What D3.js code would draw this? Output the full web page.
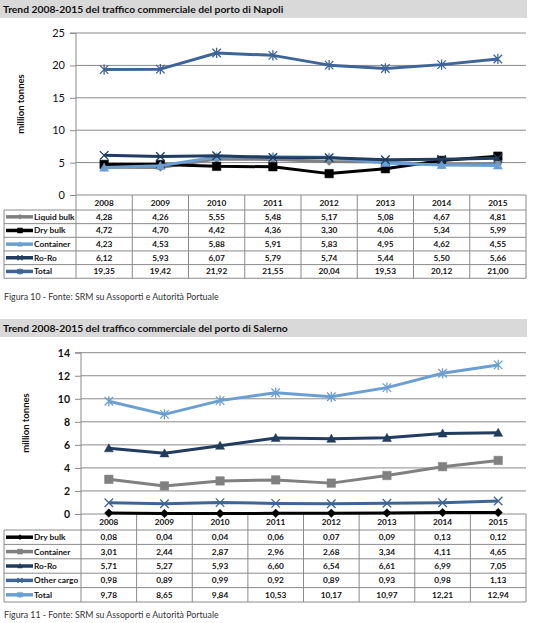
<!DOCTYPE html>
<html><head><meta charset="utf-8">
<script src="https://cdn.jsdelivr.net/npm/d3@7"></script>
<style>
body{margin:0;background:#fff;}
svg{display:block;font-family:Lato,"Noto Sans",sans-serif;}
</style></head>
<body><svg id="c" width="537" height="623"></svg>
<script>
const years = ["2008","2009","2010","2011","2012","2013","2014","2015"];

// Napoli
const napoliTitle = "Trend 2008-2015 del traffico commerciale del porto di Napoli";
const napoliCaption = "Figura 10 - Fonte: SRM su Assoporti e Autorità Portuale";
const napoliTicks = [0,5,10,15,20,25];
const napoliLiquid = [4.28,4.26,5.55,5.48,5.17,5.08,4.67,4.81];
const napoliDry = [4.72,4.70,4.42,4.36,3.30,4.06,5.34,5.99];
const napoliContainer = [4.23,4.53,5.88,5.91,5.83,4.95,4.62,4.55];
const napoliRoRo = [6.12,5.93,6.07,5.79,5.74,5.44,5.50,5.66];
const napoliTotal = [19.35,19.42,21.92,21.55,20.04,19.53,20.12,21.00];

// Salerno
const salernoTitle = "Trend 2008-2015 del traffico commerciale del porto di Salerno";
const salernoCaption = "Figura 11 - Fonte: SRM su Assoporti e Autorità Portuale";
const salernoTicks = [0,2,4,6,8,10,12,14];
const salernoDry = [0.08,0.04,0.04,0.06,0.07,0.09,0.13,0.12];
const salernoContainer = [3.01,2.44,2.87,2.96,2.68,3.34,4.11,4.65];
const salernoRoRo = [5.71,5.27,5.93,6.60,6.54,6.61,6.99,7.05];
const salernoOther = [0.98,0.89,0.99,0.92,0.89,0.93,0.98,1.13];
const salernoTotal = [9.78,8.65,9.84,10.53,10.17,10.97,12.21,12.94];

const C = {gray:"#808080", black:"#000000", light:"#6a9fd3", navy:"#203c5f", steel:"#3d6597"};

const fmt = d3.formatLocale({decimal:",",thousands:".",grouping:[3],currency:["",""]}).format(".2f");
const svg = d3.select("#c");

function markerPath(type, s){
  const h = s/2;
  if(type==="x") return `M${-h},${-h}L${h},${h}M${-h},${h}L${h},${-h}`;
  if(type==="star") return `M${-h},${-h}L${h},${h}M${-h},${h}L${h},${-h}M0,${-h*1.2}L0,${h*1.2}`;
  if(type==="square") return `M${-h},${-h}H${h}V${h}H${-h}Z`;
  if(type==="diamond") return `M0,${-h}L${h},0L0,${h}L${-h},0Z`;
  if(type==="triangle") return `M0,${-h}L${h},${h*0.8}L${-h},${h*0.8}Z`;
  return "";
}
function drawMarker(g, type, x, y, color, s){
  const filled = type!=="x" && type!=="star";
  g.append("path").attr("transform",`translate(${x},${y})`).attr("d",markerPath(type,s))
   .attr("fill", filled?color:"none").attr("stroke",color).attr("stroke-width",filled?0.5:1.3);
}

function drawChart(cfg){
  const g = svg.append("g");
  g.append("rect").attr("x",0).attr("y",cfg.barY).attr("width",527).attr("height",18).attr("fill","#d9d9d9");
  g.append("text").attr("x",3).attr("y",cfg.barY+13).attr("font-size",10.3).attr("font-weight","bold").attr("fill","#111").text(cfg.title);

  const x = d3.scaleBand().domain(years).range([cfg.left,526]);
  const y = d3.scaleLinear().domain([0,d3.max(cfg.ticks)]).range([cfg.y0,cfg.yTop]);
  g.append("g").selectAll("line").data(cfg.ticks.filter(t=>t>0)).join("line")
    .attr("x1",cfg.left).attr("x2",526).attr("y1",d=>y(d)).attr("y2",d=>y(d))
    .attr("stroke","#8a8a8a").attr("stroke-width",1);
  const ax = g.append("g").attr("transform",`translate(${cfg.left},0)`)
    .call(d3.axisLeft(y).tickValues(cfg.ticks).tickSize(6).tickPadding(5).tickFormat(d3.format("d")));
  ax.select(".domain").attr("stroke","#8a8a8a").attr("d",`M-6,${y(d3.max(cfg.ticks))}H0V${cfg.tableBottom}`);
  ax.selectAll(".tick line").attr("stroke","#8a8a8a");
  ax.selectAll(".tick text").attr("font-size",cfg.tickFont).attr("font-family","Lato,'Noto Sans',sans-serif")
    .attr("font-weight",cfg.tickWeight).attr("fill","#111");
  g.append("text").attr("transform",`translate(${cfg.labelX},${cfg.labelY}) rotate(-90)`)
    .attr("text-anchor","middle").attr("font-size",9.5).attr("font-weight","bold").attr("fill","#111").text("million tonnes");

  const rows = cfg.series.length;
  const rowH = cfg.rowH;
  const headB = cfg.headBottom;
  const tb = g.append("g");
  const tableStroke = "#8a8a8a";
  tb.append("line").attr("x1",cfg.left).attr("x2",526).attr("y1",cfg.y0).attr("y2",cfg.y0).attr("stroke",tableStroke);
  for(let i=0;i<=rows;i++){
    const yy = headB + i*rowH;
    tb.append("line").attr("x1",4).attr("x2",526).attr("y1",yy).attr("y2",yy).attr("stroke",tableStroke);
  }
  const bottom = headB + rows*rowH;
  tb.append("line").attr("x1",4).attr("x2",4).attr("y1",headB).attr("y2",bottom).attr("stroke",tableStroke);
  years.forEach((yr,i)=>{
    const xx = x(yr)+x.bandwidth();
    tb.append("line").attr("x1",xx).attr("x2",xx).attr("y1",cfg.y0).attr("y2",bottom).attr("stroke",tableStroke);
  });
  tb.selectAll("text.h").data(years).join("text").attr("class","h")
    .attr("x",d=>x(d)+x.bandwidth()/2).attr("y",(cfg.y0+headB)/2+3)
    .attr("text-anchor","middle").attr("font-size",8.3).attr("font-weight","bold").attr("fill","#111").text(d=>d);
  cfg.series.forEach((s,i)=>{
    const cy = headB + i*rowH + rowH/2;
    tb.append("line").attr("x1",6).attr("x2",33).attr("y1",cy).attr("y2",cy).attr("stroke",s.color).attr("stroke-width",3.5);
    drawMarker(tb, s.marker, 20, cy, s.color, 5);
    tb.append("text").attr("x",34).attr("y",cy+3).attr("font-size",8.3).attr("font-weight","bold").attr("fill","#111").text(s.name);
    tb.selectAll(null).data(s.values).join("text")
      .attr("x",(d,j)=>x(years[j])+x.bandwidth()/2).attr("y",cy+3)
      .attr("text-anchor","middle").attr("font-size",8.3).attr("font-weight","bold").attr("fill","#111").text(d=>fmt(d));
  });
  g.append("text").attr("x",4).attr("y",cfg.captionY).attr("font-size",8.8).attr("fill","#333").text(cfg.caption);

  const line = d3.line().x((d,j)=>x(years[j])+x.bandwidth()/2).y(d=>y(d));
  cfg.series.forEach(s=>{
    g.append("path").datum(s.values).attr("d",line).attr("fill","none").attr("stroke",s.color)
      .attr("stroke-width",3).attr("stroke-linejoin","round");
    s.values.forEach((v,j)=>drawMarker(g, s.marker, x(years[j])+x.bandwidth()/2, y(v), s.color, s.msize));
  });
}

drawChart({
  barY:0, title:napoliTitle, caption:napoliCaption, ticks:napoliTicks,
  left:76, y0:195, yTop:33, headBottom:210, rowH:13.65, tableBottom:278,
  labelX:24, labelY:104, tickFont:11, tickWeight:"normal", captionY:300,
  series:[
    {name:"Liquid bulk", values:napoliLiquid, color:C.gray, marker:"diamond", msize:8},
    {name:"Dry bulk", values:napoliDry, color:C.black, marker:"square", msize:8.5},
    {name:"Container", values:napoliContainer, color:C.light, marker:"triangle", msize:9},
    {name:"Ro-Ro", values:napoliRoRo, color:C.navy, marker:"x", msize:8.5},
    {name:"Total", values:napoliTotal, color:C.steel, marker:"star", msize:8.5}
  ]
});
drawChart({
  barY:319, title:salernoTitle, caption:salernoCaption, ticks:salernoTicks,
  left:81, y0:514, yTop:352.7, headBottom:530, rowH:14.4, tableBottom:602,
  labelX:29, labelY:423, tickFont:10.5, tickWeight:"bold", captionY:618,
  series:[
    {name:"Dry bulk", values:salernoDry, color:C.black, marker:"diamond", msize:8.5},
    {name:"Container", values:salernoContainer, color:C.gray, marker:"square", msize:8.5},
    {name:"Ro-Ro", values:salernoRoRo, color:C.navy, marker:"triangle", msize:9},
    {name:"Other cargo", values:salernoOther, color:C.steel, marker:"x", msize:8.5},
    {name:"Total", values:salernoTotal, color:C.light, marker:"star", msize:8.5}
  ]
});
</script></body></html>
